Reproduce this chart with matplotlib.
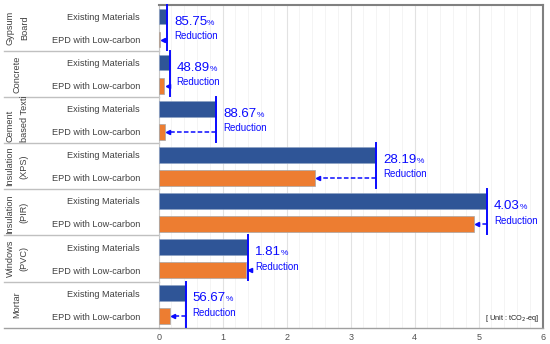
import numpy as np
import matplotlib
matplotlib.use("Agg")
import matplotlib.pyplot as plt
from matplotlib.patches import Rectangle

plt.rcParams['font.family'] = ['Liberation Sans', 'DejaVu Sans']

# data (tCO2-eq)
groups = [["Gypsum", "Board"], ["Concrete"], ["Cement", "based Textile"],
          ["Insulation", "(XPS)"], ["Insulation", "(PIR)"], ["Windows", "(PVC)"], ["Mortar"]]
existing = [0.13, 0.17, 0.90, 3.40, 5.13, 1.40, 0.42]
low_carbon = [0.019, 0.088, 0.10, 2.44, 4.93, 1.37, 0.18]
reduction = ["85.75", "48.89", "88.67", "28.19", "4.03", "1.81", "56.67"]
row_labels = ["Existing Materials", "EPD with Low-carbon"]
xticks = [0, 1, 2, 3, 4, 5, 6]

blue = "#2f5597"
orange = "#ed7d31"
ann = "#0a0aff"
txt = "#404040"

fig = plt.figure(figsize=(5.5, 3.44), dpi=100)
ax = fig.add_axes([0.2885, 0.0474, 0.6982, 0.9381])

n = len(groups)
y_ex = np.arange(n) * 2
y_lc = y_ex + 1
ax.barh(y_ex, existing, height=0.68, color=blue, edgecolor="#8ea2c4", linewidth=0.5, zorder=3)
ax.barh(y_lc, low_carbon, height=0.68, color=orange, edgecolor="#a6a6a6", linewidth=0.5, zorder=3)

ax.set_xlim(0, 6)
ax.set_ylim(2 * n - 0.5, -0.5)
ax.set_xticks(xticks)
ax.set_xticks(np.arange(0, 6.01, 0.2), minor=True)
ax.tick_params(axis='x', which='both', length=0, labelsize=6.5, labelcolor="#505050", pad=4)
ax.grid(axis='x', which='major', color="#e2e2e2", lw=0.8, zorder=0)
ax.grid(axis='x', which='minor', color="#f2f2f2", lw=0.6, zorder=0)

ax.set_yticks(np.arange(2 * n))
ax.set_yticklabels(row_labels * n)
ax.tick_params(axis='y', length=0, labelsize=6.6, labelcolor=txt, pad=13.5)

for side in ['top', 'right']:
    ax.spines[side].set_color("#808080")
    ax.spines[side].set_linewidth(1.5)
ax.spines['left'].set_color("#c8c8c8")
ax.spines['left'].set_linewidth(0.8)
ax.spines['bottom'].set_color("#a0a0a0")
ax.spines['bottom'].set_linewidth(1.0)

# category table on the left
tr = ax.get_yaxis_transform()
x_table = -0.403
for g in range(n):
    yb = 2 * g + 1.5
    ax.plot([x_table, 0], [yb, yb], color="#c0c0c0" if g < n - 1 else "#a0a0a0",
            lw=1.0, transform=tr, clip_on=False)
    cell = Rectangle((x_table, 2 * g - 0.5), -x_table, 2.0, transform=tr,
                     facecolor='none', edgecolor='none')
    lines = groups[g]
    xs = [-0.369] if len(lines) == 1 else [-0.387, -0.350]
    for k, line in enumerate(lines):
        # lines too long for the cell start at its bottom and get cut at the top
        anchor_bottom = g == 2 or (g == 4 and k == 0)
        ypos = 2 * g + 1.45 if anchor_bottom else 2 * g + 0.5
        t = ax.text(xs[k], ypos, line, rotation=90, transform=tr, fontsize=6.6, color=txt,
                    ha='center', va='bottom' if anchor_bottom else 'center')
        t.set_clip_path(cell)
        t.set_clip_on(True)

# reduction annotations
for g in range(n):
    v = existing[g]
    lc = low_carbon[g]
    ye, yl = y_ex[g], y_lc[g]
    ax.plot([v, v], [ye - 0.5, yl + 0.45], color=ann, lw=1.4, zorder=5, clip_on=False)
    ax.plot([v, lc + 0.05], [yl, yl], color=ann, lw=1.1, ls=(0, (3, 1.5)), zorder=5)
    ax.plot([lc + 0.05], [yl], marker='<', ms=3, color=ann, zorder=5)
    num = ax.annotate(reduction[g], xy=(v, ye + 0.22), xytext=(5, 0), textcoords='offset points',
                      fontsize=9.5, color=ann, va='center', ha='left')
    ax.annotate("%", xy=(1, 0.08), xycoords=num, fontsize=6, color=ann, va='bottom', ha='left')
    ax.annotate("Reduction", xy=(v, ye + 0.85), xytext=(5, 0), textcoords='offset points',
                fontsize=7, color=ann, va='center', ha='left')

ax.text(0.992, 0.012, "[ Unit : tCO$_2$-eq]", transform=ax.transAxes, fontsize=5.3,
        ha='right', va='bottom', color="#202020")

fig.savefig("out.png", dpi=100)
